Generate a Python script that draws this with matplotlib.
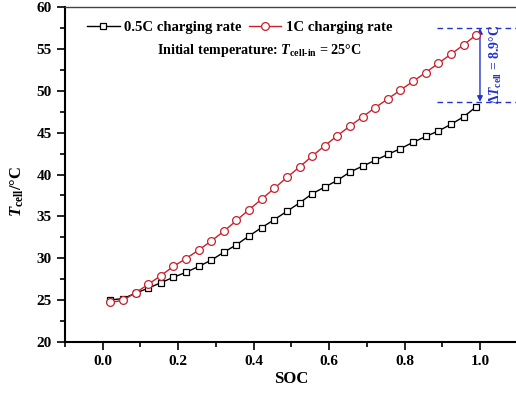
import matplotlib
matplotlib.use("Agg")
import matplotlib.pyplot as plt
import numpy as np
from matplotlib.ticker import MultipleLocator

plt.rcParams['font.family'] = ['Liberation Serif', 'DejaVu Serif']
plt.rcParams['font.weight'] = 'bold'
plt.rcParams['mathtext.fontset'] = 'custom'
plt.rcParams['mathtext.rm'] = 'Liberation Serif:bold'
plt.rcParams['mathtext.it'] = 'Liberation Serif:italic:bold'
plt.rcParams['mathtext.bf'] = 'Liberation Serif:bold'

soc = np.linspace(0.02, 0.99, 30)
t_05c = [25.0, 25.15, 25.8, 26.4, 27.05, 27.7, 28.3, 29.0, 29.75, 30.7,
         31.6, 32.65, 33.65, 34.6, 35.6, 36.6, 37.7, 38.5, 39.3, 40.3,
         41.0, 41.7, 42.4, 43.1, 43.85, 44.55, 45.2, 46.0, 46.9, 48.1]
t_1c = [24.7, 24.95, 25.85, 26.85, 27.9, 29.0, 29.95, 30.95, 32.05, 33.2,
        34.5, 35.8, 37.05, 38.35, 39.65, 40.9, 42.2, 43.45, 44.65, 45.8,
        46.9, 48.0, 49.05, 50.1, 51.15, 52.2, 53.3, 54.4, 55.5, 56.7]
dT_top, dT_bot = 57.5, 48.7
xticks = [0.0, 0.2, 0.4, 0.6, 0.8, 1.0]
yticks = [20, 25, 30, 35, 40, 45, 50, 55, 60]

W, H = 516, 394
fig = plt.figure(figsize=(W/100, H/100), dpi=100)
ax = fig.add_axes([65/W, 52.3/H, (517.7-65)/W, (341.7-7.3)/H])

red = '#c8202c'
blue = '#2233cc'
ax.plot(soc, t_05c, color='black', lw=1.0, marker='s', ms=4.8, mfc='white',
        mec='black', mew=0.9, label='0.5C charging rate', zorder=3)
ax.plot(soc, t_1c, color=red, lw=1.0, marker='o', ms=5.6, mfc='white',
        mec=red, mew=0.9, label='1C charging rate', zorder=4)

ax.set_xlim(-0.1, 1.1)
ax.set_ylim(20, 60)
ax.set_xticks(xticks)
ax.set_xticklabels([f'{v:.1f}' for v in xticks])
ax.set_yticks(yticks)
ax.xaxis.set_minor_locator(MultipleLocator(0.1))
ax.yaxis.set_minor_locator(MultipleLocator(2.5))
ax.tick_params(which='both', direction='out', top=False, right=False,
               labelsize=11, width=1.2)
ax.tick_params(which='major', length=6)
ax.tick_params(which='minor', length=3.5)
for s in ['left', 'bottom']:
    ax.spines[s].set_linewidth(1.5)
ax.spines['top'].set_linewidth(1.0)
ax.spines['top'].set_color('#444444')
for lab in ax.get_xticklabels() + ax.get_yticklabels():
    lab.set_fontweight('bold')

ax.set_xlabel('SOC', fontsize=12, fontweight='bold')
ax.xaxis.set_label_coords(0.5, -0.088)
ax.set_ylabel(r'$T_{\rm cell}$/°C', fontsize=12, fontweight='bold')
ax.yaxis.set_label_coords(-0.086, 0.45)

leg = ax.legend(loc='upper left', ncol=2, frameon=False, fontsize=10.6,
                bbox_to_anchor=(0.02, 1.0), handlelength=2.2,
                columnspacing=0.5, handletextpad=0.3)
for t in leg.get_texts():
    t.set_fontweight('bold')

ax.text(0.43, 0.87, r'Initial temperature: $T_{\rm cell\text{-}in}$ = 25°C',
        transform=ax.transAxes, fontsize=10.2, fontweight='bold',
        ha='center', va='center')

ax.axhline(dT_top, xmin=(0.885+0.1)/1.2, xmax=1.0, color=blue, ls='--', lw=1.0, dashes=(4, 3))
ax.axhline(dT_bot, xmin=(0.885+0.1)/1.2, xmax=1.0, color=blue, ls='--', lw=1.0, dashes=(4, 3))
ax.annotate('', xy=(1.0, dT_top), xytext=(1.0, dT_bot),
            arrowprops=dict(arrowstyle='<|-|>', color=blue, lw=1.0,
                            mutation_scale=8, shrinkA=0, shrinkB=0))
ax.text(1.042, (dT_top + dT_bot) / 2, r'$\Delta T_{\rm cell}$ = 8.9°C',
        rotation=90, color=blue, fontsize=9.8, fontweight='bold',
        ha='center', va='center')

fig.savefig('out.png', dpi=100)
